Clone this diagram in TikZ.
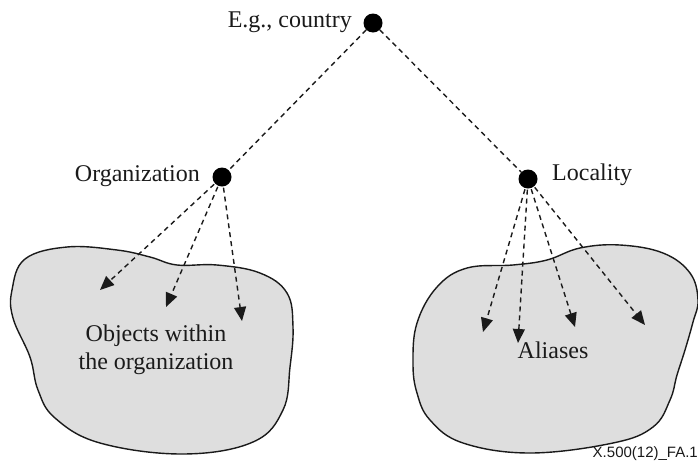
\documentclass[tikz,border=0pt]{standalone}
\usepackage{fontspec}
\setmainfont{Liberation Serif}
\newfontfamily\footfont{Liberation Sans}
\usetikzlibrary{arrows.meta}
\definecolor{blobfill}{HTML}{DEDEDE}
\definecolor{inkc}{HTML}{1A1A1A}
\begin{document}
\begin{tikzpicture}[x=1pt,y=-1pt,
  dotnode/.style={circle,fill=black,inner sep=0pt,minimum size=19pt},
  lbl/.style={inner sep=0pt,text=inkc,font=\fontsize{24}{28}\selectfont},
  blob/.style={draw=inkc,fill=blobfill,line width=1.4pt},
  link/.style={dashed,dash pattern=on 5pt off 4pt,line width=1.4pt,draw=inkc},
  arr/.style={link,-{Triangle[length=14pt,width=12pt]},shorten <=1pt}]
\useasboundingbox (0,0) rectangle (698,472);
\clip (0,0) rectangle (698,472);
% blobs
\draw[blob] plot[smooth cycle,tension=0.65] coordinates {(12,290) (25,259) (67,247) (117,250) (150,257) (177,265) (217,265) (260,273) (287,293) (293,327) (290,367) (283,410) (253,442) (183,454) (100,443) (55,418) (38,390) (30,357) (13,318)};
\draw[blob] plot[smooth cycle,tension=0.65] coordinates {(413,363) (417,323) (437,287) (467,268) (513,265) (547,260) (580,248) (620,245) (663,253) (690,273) (698,300) (693,322) (685,350) (677,375) (670,400) (653,427) (613,443) (530,453) (463,443) (430,420) (417,393)};
% dots
\node[dotnode] (country) at (373,23) {};
\node[dotnode] (org) at (222,177) {};
\node[dotnode] (loc) at (528,179) {};
% labels
\node[lbl,anchor=east] (countrylbl) at (352,22) {E.g., country};
\node[lbl,anchor=east] (orglbl) at (200,176) {Organization};
\node[lbl,anchor=west] (loclbl) at (552,175) {Locality};
\node[lbl,align=center] (objlbl) at (156,350) {Objects within\\the organization};
\node[lbl] (aliaslbl) at (553,350) {Aliases};
\node[inner sep=0pt,anchor=base east,text=inkc,font=\footfont\fontsize{15}{18}\selectfont] (fig) at (698,457) {X.500(12)\_FA.1};
% arrow ends
\coordinate (o1) at (100,290);
\coordinate (o2) at (166,307);
\coordinate (o3) at (242,321);
\coordinate (l1) at (483,332);
\coordinate (l2) at (518,343);
\coordinate (l3) at (575,327);
\coordinate (l4) at (645,325);
% links
\draw[link] (country) -- (org);
\draw[link] (country) -- (loc);
\draw[arr] (org) -- (o1);
\draw[arr] (org) -- (o2);
\draw[arr] (org) -- (o3);
\draw[arr] (loc) -- (l1);
\draw[arr] (loc) -- (l2);
\draw[arr] (loc) -- (l3);
\draw[arr] (loc) -- (l4);
\end{tikzpicture}
\end{document}
